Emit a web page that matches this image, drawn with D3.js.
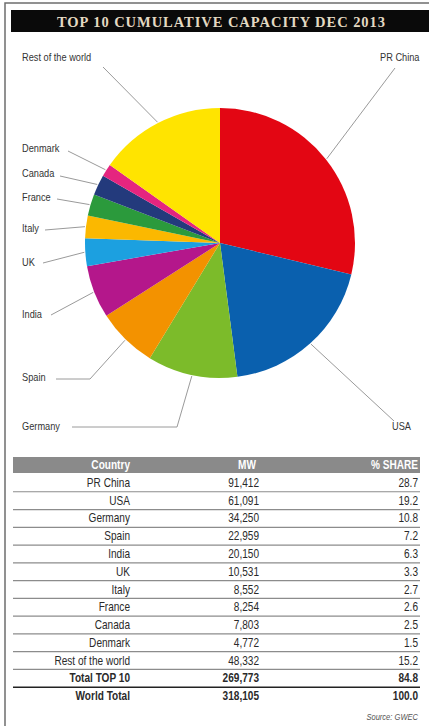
<!DOCTYPE html>
<html>
<head>
<meta charset="utf-8">
<script src="https://cdn.jsdelivr.net/npm/d3@7"></script>
<style>
  body { margin: 0; background: #fff; }
  svg { display: block; }
  .lbl { font-family: "Liberation Sans", Arial, sans-serif; font-size: 11px; fill: #333; }
  .cell { font-family: "Liberation Sans", Arial, sans-serif; font-size: 12px; fill: #2a2a2a; }
</style>
</head>
<body>
<div id="chart"></div>
<script>
// data
const countries = ["PR China", "USA", "Germany", "Spain", "India", "UK", "Italy", "France", "Canada", "Denmark", "Rest of the world"];
const capacityMW = [91412, 61091, 34250, 22959, 20150, 10531, 8552, 8254, 7803, 4772, 48332];
const sharePct = [28.7, 19.2, 10.8, 7.2, 6.3, 3.3, 2.7, 2.6, 2.5, 1.5, 15.2];
const sliceColors = ["#e30613", "#0a60ae", "#7cbb2a", "#f39200", "#b4178b", "#1ca0e0", "#fbb800", "#2b9a3c", "#233a7c", "#e5257f", "#ffe400"];
const totalLabels = ["Total TOP 10", "World Total"];
const totalMW = [269773, 318105];
const totalShare = [84.8, 100.0];
const headers = ["Country", "MW", "% SHARE"];

// label placement (layout only): text anchor point + leader start / elbow
const labelLayout = {
    "PR China": { x: 380, y: 61, line: [[395, 68]] },
    "USA": { x: 392, y: 430, line: [[394, 421]] },
    "Germany": { x: 22, y: 430, line: [[72, 427], [177, 427]] },
    "Spain": { x: 22, y: 381, line: [[56, 379], [90, 379]] },
    "India": { x: 22, y: 318, line: [[51, 315]] },
    "UK": { x: 22, y: 266, line: [[43, 263]] },
    "Italy": { x: 22, y: 232, line: [[45, 230]] },
    "France": { x: 22, y: 201, line: [[57, 199]] },
    "Canada": { x: 22, y: 177, line: [[60, 176]] },
    "Denmark": { x: 22, y: 152, line: [[68, 151]] },
    "Rest of the world": { x: 22, y: 61, line: [[103, 67]] }
};

const squeeze = 0.84; // condensed look

const W = 429, H = 726;
const svg = d3.select("#chart").append("svg")
    .attr("width", W)
    .attr("height", H);

// frame
svg.append("path")
    .attr("d", `M5,${H} L5,3 L${W},3`)
    .attr("fill", "none")
    .attr("stroke", "#6e6e6e")
    .attr("stroke-width", 1.5);

// title bar
svg.append("rect")
    .attr("x", 11).attr("y", 10)
    .attr("width", W - 11).attr("height", 22)
    .attr("fill", "#0a0a0a");
svg.append("text")
    .attr("x", 57).attr("y", 26.5)
    .attr("textLength", 328)
    .attr("lengthAdjust", "spacing")
    .style("font-family", "'Liberation Serif', 'DejaVu Serif', serif")
    .style("font-weight", "bold")
    .style("font-size", "14.5px")
    .style("fill", "#e3d9c2")
    .text("TOP 10 CUMULATIVE CAPACITY DEC 2013");

// pie
const cx = 220, cy = 243, r = 135;
const pieData = d3.pie().sort(null)(capacityMW);
const arc = d3.arc().innerRadius(0).outerRadius(r);
const g = svg.append("g").attr("transform", `translate(${cx},${cy})`);
g.selectAll("path.slice")
    .data(pieData)
    .join("path")
    .attr("class", "slice")
    .attr("d", arc)
    .attr("fill", (d, i) => sliceColors[i]);

// leader lines + labels
pieData.forEach(function (d, i) {
    const lay = labelLayout[countries[i]];
    const mid = (d.startAngle + d.endAngle) / 2;
    const end = [cx + (r + 1) * Math.sin(mid), cy - (r + 1) * Math.cos(mid)];
    const pts = lay.line.concat([end]);
    svg.append("path")
        .attr("d", d3.line()(pts))
        .attr("fill", "none")
        .attr("stroke", "#9a9a9a")
        .attr("stroke-width", 1);
    svg.append("text")
        .attr("class", "lbl")
        .attr("transform", `translate(${lay.x},${lay.y}) scale(${squeeze},1)`)
        .text(countries[i]);
});

// table
const rows = countries.map((c, i) => ({ name: c, mw: capacityMW[i], share: sharePct[i], bold: false }))
    .concat(totalLabels.map((c, i) => ({ name: c, mw: totalMW[i], share: totalShare[i], bold: true })));

const tx0 = 13, tx1 = 420;
const y = d3.scaleBand()
    .domain(rows.map(d => d.name))
    .range([474, 705]);
const fmt = d3.format(",");
const colX = { name: 130, mw: 259, share: 418 };

svg.append("rect")
    .attr("x", tx0).attr("y", 457)
    .attr("width", tx1 - tx0).attr("height", 16)
    .attr("fill", "#8a8a8a");

function cellText(sel, x, yy, anchor, txt) {
    return sel.append("text")
        .attr("class", "cell")
        .attr("transform", `translate(${x},${yy}) scale(${squeeze},1)`)
        .attr("text-anchor", anchor)
        .text(txt);
}
cellText(svg, colX.name, 469, "end", headers[0]).style("fill", "#fff").style("font-weight", "bold");
cellText(svg, 247, 469, "middle", headers[1]).style("fill", "#fff").style("font-weight", "bold");
cellText(svg, colX.share, 469, "end", headers[2]).style("fill", "#fff").style("font-weight", "bold");

const row = svg.selectAll("g.row")
    .data(rows)
    .join("g")
    .attr("class", "row")
    .attr("transform", d => `translate(0,${y(d.name)})`);

row.filter((d, i) => i < rows.length - 1)
    .append("line")
    .attr("x1", tx0).attr("x2", tx1)
    .attr("y1", y.bandwidth()).attr("y2", y.bandwidth())
    .attr("stroke", (d) => d.name === "Total TOP 10" ? "#222" : "#8c8c8c")
    .attr("stroke-width", (d) => d.name === "Total TOP 10" ? 1.5 : 1.2);

const base = y.bandwidth() / 2 + 4;
row.each(function (d) {
    const sel = d3.select(this);
    const wt = d.bold ? "bold" : "normal";
    cellText(sel, colX.name, base, "end", d.name).style("font-weight", wt);
    cellText(sel, colX.mw, base, "end", fmt(d.mw)).style("font-weight", wt);
    cellText(sel, colX.share, base, "end", d.share.toFixed(1)).style("font-weight", wt);
});

// source
svg.append("text")
    .attr("transform", `translate(418,720) scale(${squeeze},1)`)
    .attr("text-anchor", "end")
    .style("font-family", "'Liberation Sans', sans-serif")
    .style("font-size", "9px")
    .style("font-style", "italic")
    .style("fill", "#555")
    .text("Source: GWEC");
</script>
</body>
</html>
